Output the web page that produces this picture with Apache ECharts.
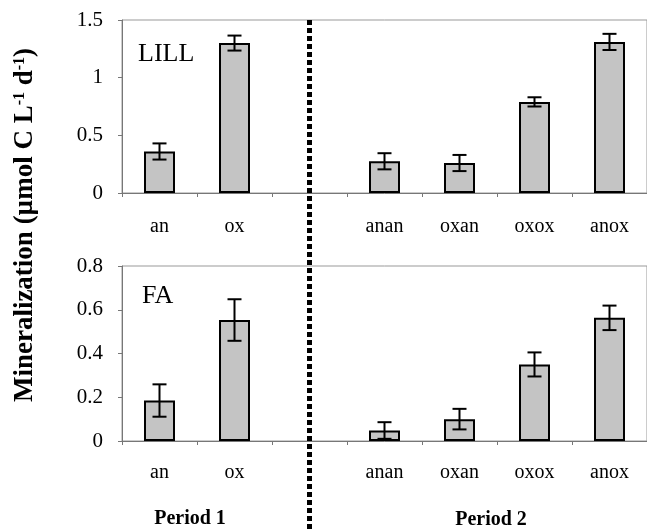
<!DOCTYPE html>
<html>
<head>
<meta charset="utf-8">
<script src="https://cdn.jsdelivr.net/npm/echarts@6/dist/echarts.min.js"></script>
<style>
  html, body { margin: 0; padding: 0; background: #fff; }
  #main { width: 647px; height: 529px; }
</style>
</head>
<body>
<div id="main"></div>
<script>
// categories, blank slot is the gap between the two periods
const categories = ['an', 'ox', '', 'anan', 'oxan', 'oxox', 'anox'];

// LILL panel
const lillMean = [0.36, 1.30, null, 0.275, 0.26, 0.79, 1.31];
const lillErr = [0.07, 0.065, null, 0.07, 0.07, 0.04, 0.07];

// FA panel
const faMean = [0.185, 0.553, null, 0.048, 0.10, 0.35, 0.563];
const faErr = [0.074, 0.095, null, 0.038, 0.047, 0.055, 0.056];

const serif = 'Liberation Serif';

function errData(mean, err) {
  const out = [];
  mean.forEach((m, i) => {
    if (m != null) out.push([i, m - err[i], m + err[i]]);
  });
  return out;
}

function errRender(params, api) {
  const lo = api.coord([api.value(0), api.value(1)]);
  const hi = api.coord([api.value(0), api.value(2)]);
  const cap = 7;
  const st = { stroke: '#000', lineWidth: 2 };
  return {
    type: 'group',
    children: [
      { type: 'line', shape: { x1: lo[0], y1: lo[1], x2: hi[0], y2: hi[1] }, style: st },
      { type: 'line', shape: { x1: lo[0] - cap, y1: lo[1], x2: lo[0] + cap, y2: lo[1] }, style: st },
      { type: 'line', shape: { x1: hi[0] - cap, y1: hi[1], x2: hi[0] + cap, y2: hi[1] }, style: st }
    ]
  };
}

function xAx(gridIndex, margin) {
  return {
    type: 'category',
    gridIndex: gridIndex,
    data: categories,
    axisLine: { lineStyle: { color: '#777', width: 1 } },
    axisTick: { show: true, length: 4, lineStyle: { color: '#777' } },
    axisLabel: { fontFamily: serif, fontSize: 20, color: '#000', margin: margin }
  };
}

function yAx(gridIndex, max, interval) {
  return {
    type: 'value',
    gridIndex: gridIndex,
    min: 0,
    max: max,
    interval: interval,
    splitLine: { show: false },
    axisLine: { show: true, lineStyle: { color: '#777', width: 1 } },
    axisTick: { show: true, length: 4, lineStyle: { color: '#777' } },
    axisLabel: { fontFamily: serif, fontSize: 21, color: '#000', margin: 19 }
  };
}

const barStyle = { color: '#c4c4c4', borderColor: '#000', borderWidth: 2 };

const chart = echarts.init(document.getElementById('main'));
chart.setOption({
  animation: false,
  grid: [
    { left: 122, top: 20, width: 532, height: 173, show: true, borderColor: '#999', borderWidth: 1 },
    { left: 122, top: 266, width: 532, height: 175, show: true, borderColor: '#999', borderWidth: 1 }
  ],
  xAxis: [xAx(0, 24), xAx(1, 22)],
  yAxis: [yAx(0, 1.5, 0.5), yAx(1, 0.8, 0.2)],
  series: [
    { type: 'bar', xAxisIndex: 0, yAxisIndex: 0, data: lillMean, barWidth: 31, itemStyle: barStyle },
    { type: 'custom', xAxisIndex: 0, yAxisIndex: 0, data: errData(lillMean, lillErr), renderItem: errRender, z: 5 },
    { type: 'bar', xAxisIndex: 1, yAxisIndex: 1, data: faMean, barWidth: 31, itemStyle: barStyle },
    { type: 'custom', xAxisIndex: 1, yAxisIndex: 1, data: errData(faMean, faErr), renderItem: errRender, z: 5 }
  ]
});

// divider between periods, placed at the blank category
const divX = chart.convertToPixel({ xAxisIndex: 0 }, 2);

chart.setOption({
  graphic: [
    {
      type: 'line',
      shape: { x1: divX, y1: 20, x2: divX, y2: 529 },
      style: { stroke: '#000', lineWidth: 5, lineDash: [5, 3] },
      z: 10
    },
    {
      type: 'text', left: 138, top: 41,
      style: { text: 'LILL', font: '26px "Liberation Serif"', fill: '#000' }
    },
    {
      type: 'text', left: 142, top: 283,
      style: { text: 'FA', font: '26px "Liberation Serif"', fill: '#000' }
    },
    {
      type: 'text', x: 190, y: 519,
      style: { text: 'Period 1', font: 'bold 20px "Liberation Serif"', fill: '#000', align: 'center', verticalAlign: 'middle' }
    },
    {
      type: 'text', x: 491, y: 520,
      style: { text: 'Period 2', font: 'bold 20px "Liberation Serif"', fill: '#000', align: 'center', verticalAlign: 'middle' }
    },
    {
      type: 'text', x: 25, y: 225, rotation: Math.PI / 2,
      style: {
        text: '{t|Mineralization (µmol C L}{s|-1}{t| d}{s|-1}{t|)}',
        align: 'center', verticalAlign: 'middle',
        rich: {
          t: { font: 'bold 27px "Liberation Serif"', fill: '#000' },
          s: { font: 'bold 16px "Liberation Serif"', fill: '#000', verticalAlign: 'top', padding: [0, 0, 11, 0] }
        }
      }
    }
  ]
});
</script>
</body>
</html>
